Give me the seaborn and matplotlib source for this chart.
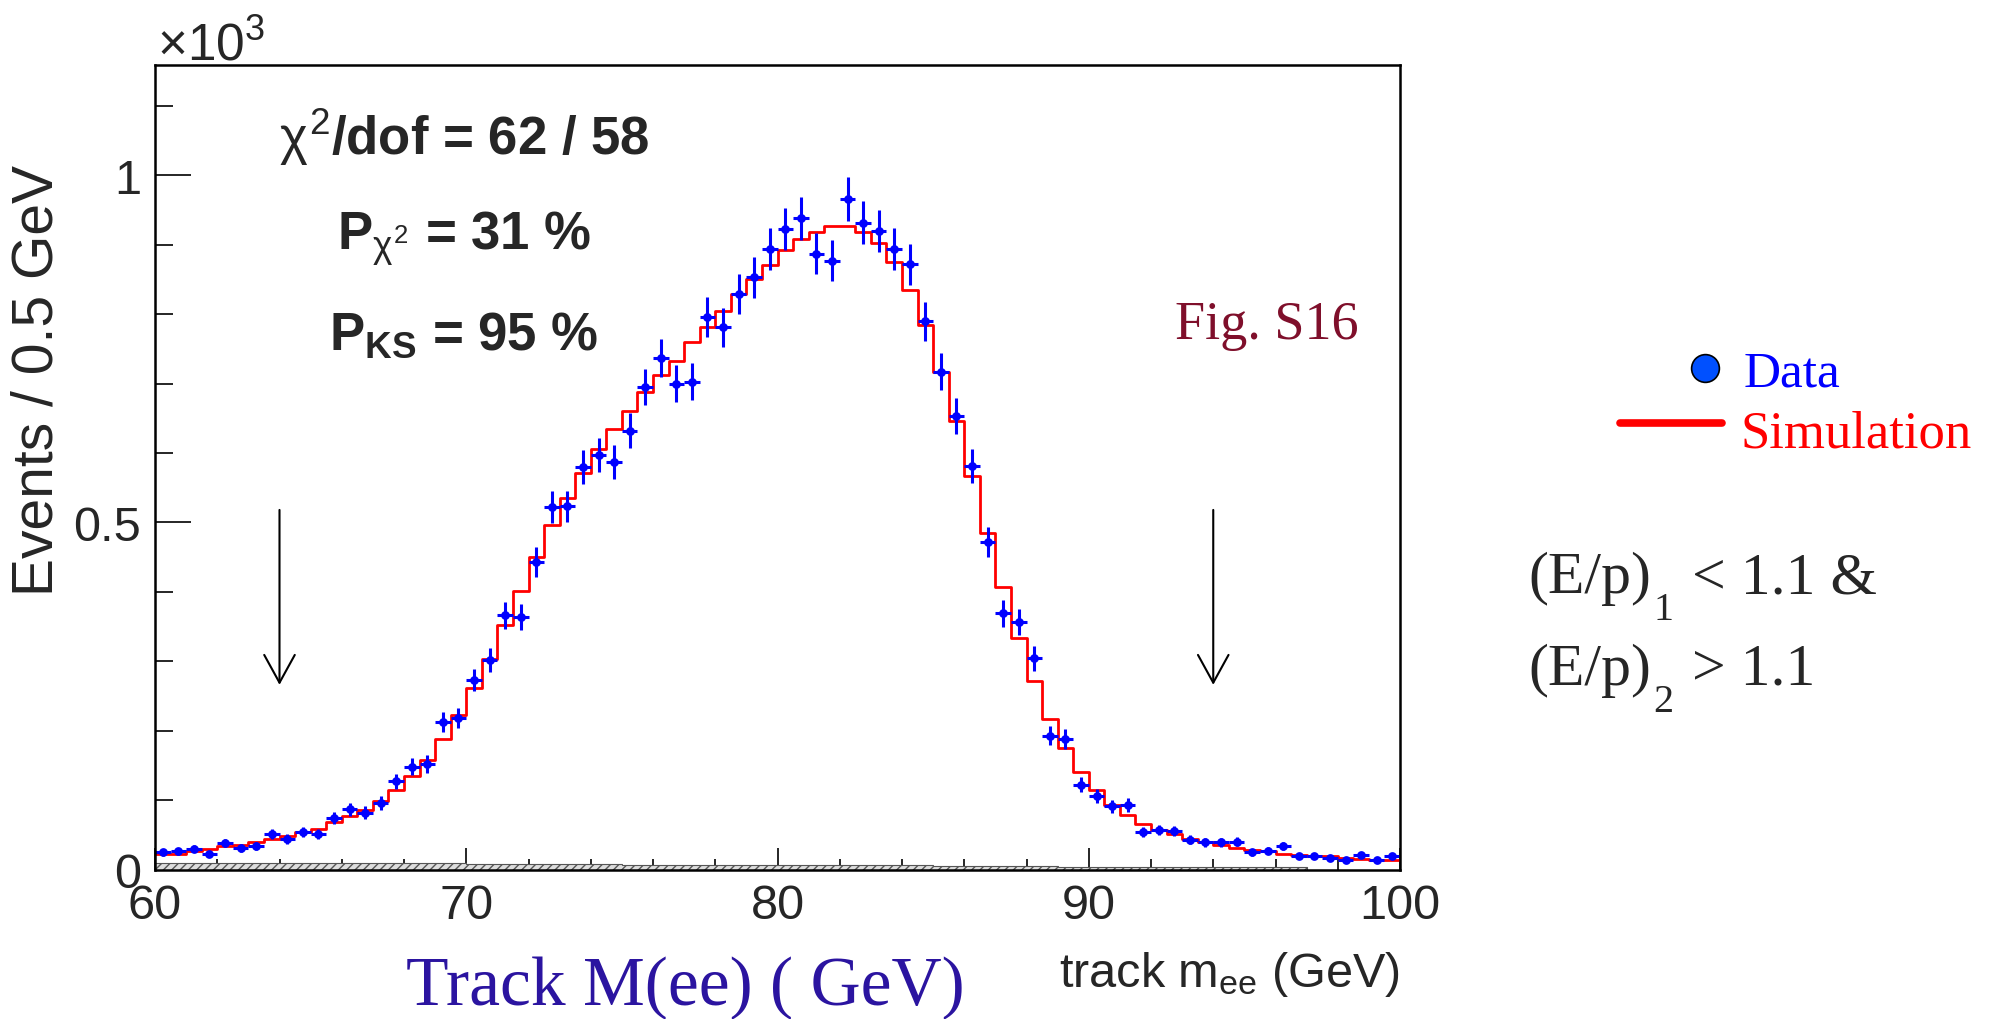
import numpy as np
import pandas as pd
import matplotlib
matplotlib.use("Agg")
import matplotlib.pyplot as plt
from matplotlib.lines import Line2D
from matplotlib.ticker import MultipleLocator, FuncFormatter
import seaborn as sns

# binning: 0.5 GeV bins from 60 to 100 GeV
edges = np.arange(60, 100.01, 0.5)
centers = edges[:-1] + 0.25

# data counts per bin
data_counts = [25, 26, 30, 22, 38, 31, 34, 51, 44, 54,
               51, 74, 87, 82, 96, 127, 148, 152, 212, 218,
               273, 302, 366, 364, 443, 522, 523, 580, 597, 587,
               632, 695, 737, 700, 703, 796, 781, 829, 853, 894,
               923, 938, 887, 877, 966, 932, 920, 894, 872, 790,
               717, 653, 581, 472, 369, 357, 304, 193, 188, 122,
               106, 91, 93, 54, 57, 55, 43, 39, 39, 40,
               25, 27, 34, 20, 19, 17, 13, 21, 13, 19]

# simulation histogram per bin
sim_counts = [22, 23, 26, 29, 34, 36, 40, 44, 48, 54,
              59, 68, 77, 85, 99, 115, 135, 158, 188, 223,
              261, 303, 352, 401, 450, 496, 535, 571, 606, 635,
              661, 688, 712, 732, 760, 781, 804, 829, 851, 871,
              893, 908, 919, 927, 927, 919, 903, 875, 835, 785,
              717, 646, 567, 485, 407, 334, 271, 217, 175, 140,
              114, 93, 79, 66, 57, 51, 44, 39, 35, 31,
              28, 26, 23, 21, 20, 19, 17, 15, 14, 14]

# small background component at the bottom
bkg_edges = [60, 64, 70, 75, 80, 85, 89, 93, 97]
bkg_counts = [10, 9, 8, 7, 6, 5, 4, 3]

cut_positions = [64, 94]
stats_lines = [r"$\chi^{2}$/dof = 62 / 58",
               r"P$_{\chi^{2}}$ = 31 %",
               r"P$_{\mathbf{KS}}$ = 95 %"]

df = pd.DataFrame({"mass": centers, "data": data_counts, "sim": sim_counts})
df["err"] = np.sqrt(df["data"])

sns.set_theme(style="ticks")
plt.rcParams["font.family"] = ["Liberation Sans", "DejaVu Sans"]
plt.rcParams["mathtext.fontset"] = "custom"
plt.rcParams["mathtext.rm"] = "Liberation Sans"
plt.rcParams["mathtext.it"] = "Liberation Sans"
plt.rcParams["mathtext.bf"] = "Liberation Sans:bold"

W, H = 1990, 1020
fig = plt.figure(figsize=(W / 100, H / 100), dpi=100)
ax = fig.add_axes([155 / W, 1 - 870.5 / H, 1245 / W, 804.5 / H])

# background (grey hatched)
ax.stairs(bkg_counts, bkg_edges, fill=True, facecolor="#dddddd",
          edgecolor="#555555", hatch="////", linewidth=0.8)

# simulation as step histogram
sns.histplot(data=df, x="mass", weights="sim", binwidth=0.5, binrange=(60, 100),
             element="step", fill=False, color="#ff0000", linewidth=2.0, ax=ax)

# data points with errors
ax.errorbar(df["mass"], df["data"], yerr=df["err"], xerr=0.25, fmt="none",
            ecolor="#0000ff", elinewidth=2.2, capsize=0)
sns.scatterplot(data=df, x="mass", y="data", color="#0000ff", s=40,
                edgecolor="#0000ff", linewidth=0, ax=ax, zorder=5)

# cut arrows
for xc in cut_positions:
    ax.annotate("", xy=(xc, 262), xytext=(xc, 522),
                arrowprops=dict(arrowstyle="->,head_length=1.0,head_width=0.55",
                                mutation_scale=20, lw=1.5, color="black"))

ax.set_xlim(60, 100)
ax.set_ylim(0, 1159)
ax.set_xlabel("")
ax.set_ylabel("")

ax.xaxis.set_major_locator(MultipleLocator(10))
ax.xaxis.set_minor_locator(MultipleLocator(2))
ax.yaxis.set_major_locator(MultipleLocator(500))
ax.yaxis.set_minor_locator(MultipleLocator(100))
ax.yaxis.set_major_formatter(FuncFormatter(lambda v, p: f"{v / 1000:g}"))

ax.tick_params(axis="x", which="major", direction="in", length=16, width=1.4,
               labelsize=35, pad=10, top=False)
ax.tick_params(axis="x", which="minor", direction="in", length=8, width=1.4, top=False)
ax.tick_params(axis="y", which="major", direction="in", length=26, width=1.4,
               labelsize=35, pad=10, right=False)
ax.tick_params(axis="y", which="minor", direction="in", length=13, width=1.4, right=False)
for sp in ax.spines.values():
    sp.set_visible(True)
    sp.set_linewidth(1.8)
    sp.set_color("black")

# axis titles
fig.text(38 / W, 1 - 165 / H, "Events / 0.5 GeV", rotation=90, ha="center",
         va="top", fontsize=41)
fig.text(1400 / W, 1 - 987 / H, r"track m$_{\mathrm{ee}}$ (GeV)", ha="right",
         va="baseline", fontsize=35)
fig.text(157 / W, 1 - 60 / H, r"$\times10^{3}$", ha="left", va="baseline", fontsize=37)

# fit statistics
for txt, yb in zip(stats_lines, [155, 250, 350]):
    fig.text(464 / W, 1 - yb / H, txt, ha="center", va="baseline",
             fontsize=38, fontweight="bold")

serif = ["Liberation Serif", "DejaVu Serif"]
fig.text(1267 / W, 1 - 339 / H, "Fig. S16", ha="center", va="baseline",
         fontsize=39, color="#7f0f2b", family=serif)
fig.text(685 / W, 1 - 1005 / H, "Track M(ee) ( GeV)", ha="center", va="baseline",
         fontsize=50, color="#2b14a0", family=serif)

# legend drawn by hand
fig.add_artist(Line2D([1705 / W], [1 - 369 / H], marker="o", markersize=20,
                      markerfacecolor="#0050ff", markeredgecolor="black",
                      markeredgewidth=1.2, transform=fig.transFigure))
fig.add_artist(Line2D([1620 / W, 1722 / W], [1 - 424 / H, 1 - 424 / H],
                      color="#ff0000", linewidth=5.5, transform=fig.transFigure))
fig.text(1744 / W, 1 - 387 / H, "Data", ha="left", va="baseline", fontsize=37,
         color="#0000ff", family=serif)
fig.text(1741 / W, 1 - 447 / H, "Simulation", ha="left", va="baseline", fontsize=38,
         color="#ff0000", family=serif)

# selection text
fig.text(1528 / W, 1 - 593 / H, "(E/p)", ha="left", va="baseline", fontsize=43, family=serif)
fig.text(1654 / W, 1 - 620 / H, "1", ha="left", va="baseline", fontsize=29, family=serif)
fig.text(1692 / W, 1 - 593 / H, "< 1.1 &", ha="left", va="baseline", fontsize=43, family=serif)
fig.text(1528 / W, 1 - 685 / H, "(E/p)", ha="left", va="baseline", fontsize=43, family=serif)
fig.text(1653 / W, 1 - 712 / H, "2", ha="left", va="baseline", fontsize=29, family=serif)
fig.text(1692 / W, 1 - 685 / H, "> 1.1", ha="left", va="baseline", fontsize=43, family=serif)

fig.savefig("out.png", dpi=100)
